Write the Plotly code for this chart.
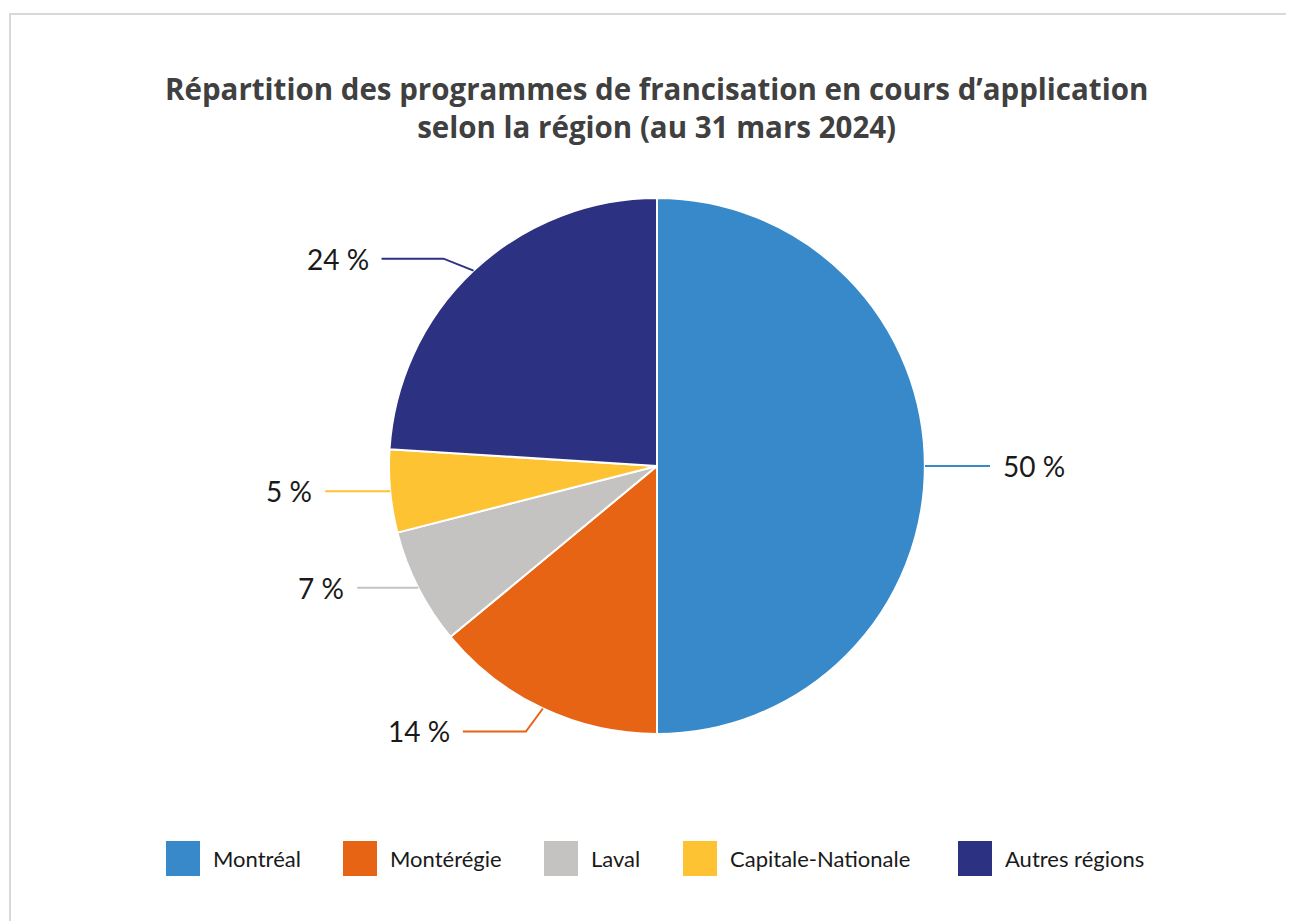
import math
import plotly.graph_objects as go

# Data
regions = ["Montréal", "Montérégie", "Laval", "Capitale-Nationale", "Autres régions"]
shares = [50, 14, 7, 5, 24]
colors = ["#3789C9", "#E66414", "#C4C3C1", "#FDC332", "#2C3181"]
title = "<b>Répartition des programmes de francisation en cours d’application<br>selon la région (au 31 mars 2024)</b>"

W, H = 1294, 921
OFF = 8  # page body margin
CX, CY, R = 657, 466, 268  # pie centre and radius in page pixels

def px(x):
    return (x - OFF) / (W - OFF)

def py(y):
    return 1 - (y - OFF) / (H - OFF)

fig = go.Figure()
fig.add_trace(go.Pie(
    labels=regions,
    values=shares,
    marker=dict(colors=colors, line=dict(color="white", width=2)),
    sort=False,
    direction="clockwise",
    rotation=0,
    textinfo="none",
    hoverinfo="label+percent",
    showlegend=False,
    domain=dict(x=[px(CX - R), px(CX + R)], y=[py(CY + R), py(CY - R)]),
))

# leader line layout per slice: elbow offset (dx, dy) and horizontal run
leaders = [(0, 0, 65), (-17, 23, -63), (0, 0, -61), (0, 0, -65), (-30, -12, -62)]

shapes = []
annotations = []
total = sum(shares)
cum = 0
for val, col, (dx, dy, run) in zip(shares, colors, leaders):
    mid = (cum + val / 2) / total * 2 * math.pi
    cum += val
    ex = CX + R * math.sin(mid)
    ey = CY - R * math.cos(mid)
    bx, by = ex + dx, ey + dy
    cx2 = bx + run
    path = f"M {px(ex)} {py(ey)} L {px(bx)} {py(by)} L {px(cx2)} {py(by)}"
    shapes.append(dict(type="path", xref="paper", yref="paper", path=path,
                       line=dict(color=col, width=2)))
    gap = 11 if run > 0 else -11
    annotations.append(dict(
        x=px(cx2 + gap), y=py(by), xref="paper", yref="paper",
        text=f"{round(val / total * 100)} %", showarrow=False,
        xanchor="left" if run > 0 else "right", yanchor="middle",
        font=dict(family="Lato", size=28, color="#1A1A1A"),
    ))

# custom legend with large squares
legend_widths = [89, 113, 51, 187, 146]
lx = 166
ly0, ly1 = 841, 876
for name, col, tw in zip(regions, colors, legend_widths):
    shapes.append(dict(type="rect", xref="paper", yref="paper",
                       x0=px(lx), x1=px(lx + 34), y0=py(ly1), y1=py(ly0),
                       fillcolor=col, line=dict(width=0)))
    annotations.append(dict(
        x=px(lx + 45), y=py((ly0 + ly1) / 2), xref="paper", yref="paper",
        text=name, showarrow=False, xanchor="left", yanchor="middle",
        font=dict(family="Lato", size=22, color="#1A1A1A"),
    ))
    lx += 45 + tw + 43

# outer frame
shapes.append(dict(type="rect", xref="paper", yref="paper",
                   x0=px(10), x1=1.02, y0=-0.02, y1=py(14),
                   line=dict(color="#D9D9D9", width=2), fillcolor="rgba(0,0,0,0)"))

annotations.append(dict(
    x=px(657), y=py(107), xref="paper", yref="paper", text=title,
    showarrow=False, xanchor="center", yanchor="middle",
    font=dict(family="Open Sans", size=29.5, color="#404040"),
))

fig.update_layout(
    width=W - OFF, height=H - OFF,
    margin=dict(l=0, r=0, t=0, b=0),
    paper_bgcolor="white",
    plot_bgcolor="white",
    shapes=shapes,
    annotations=annotations,
    template="none",
)

fig.write_html("out.html")
